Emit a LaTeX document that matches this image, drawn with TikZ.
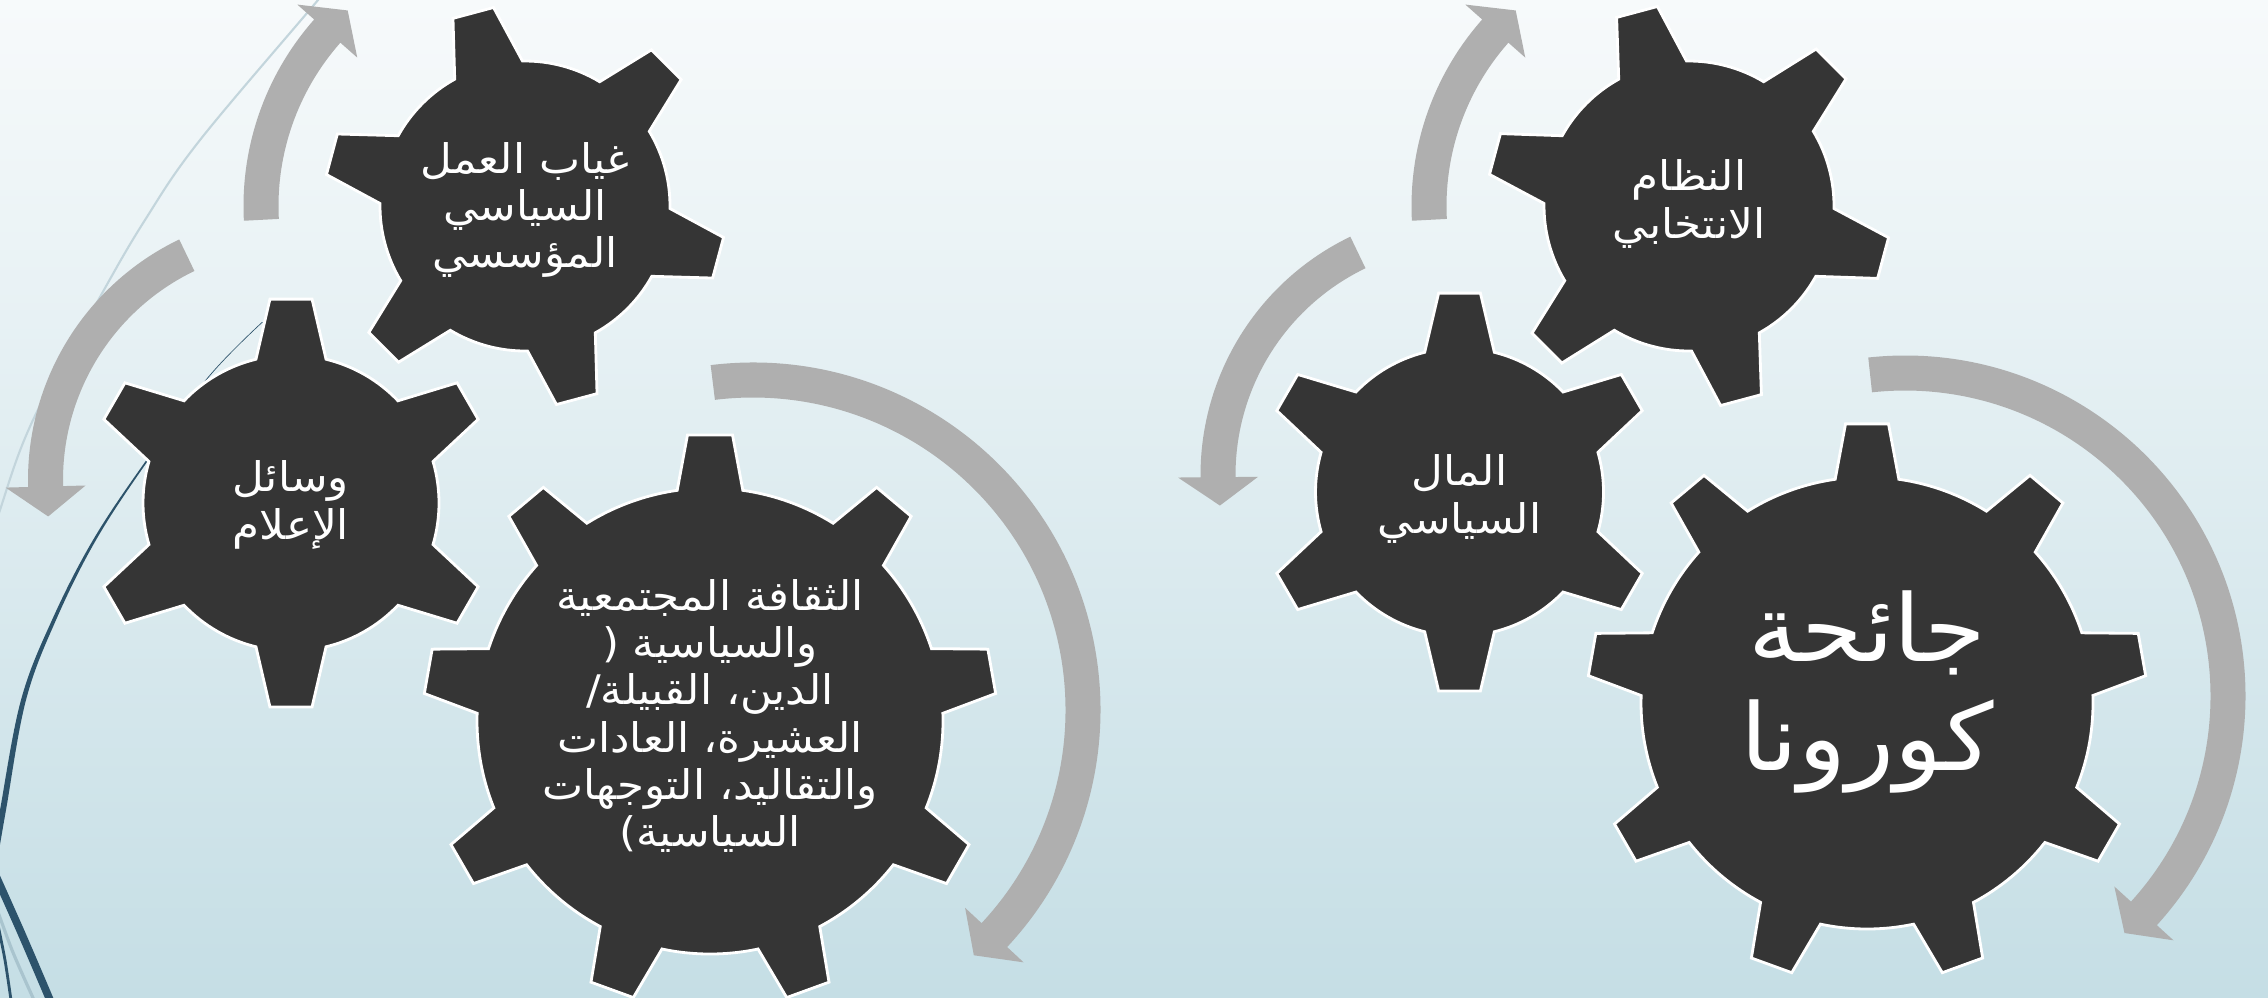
\documentclass[tikz,border=0pt]{standalone}
\usepackage{fontspec}
\newfontfamily\arabicfont[Script=Arabic, FakeStretch=1.07]{DejaVu Sans}
\TeXXeTstate=1
\definecolor{bgtop}{HTML}{F7FAFB}
\definecolor{bgbottom}{HTML}{C5DEE5}
\definecolor{geardark}{HTML}{353535}
\definecolor{arrowgray}{HTML}{AFAFAF}
\definecolor{wispteal}{HTML}{2D536B}
\definecolor{wisplight}{HTML}{C3D5DC}
\definecolor{wispblue}{HTML}{A9C4CE}

% cogwheel: centre x, centre y, teeth, first tooth angle, tip radius, body radius,
% half angle of tooth base, half angle of tooth tip
\newcommand{\cogwheel}[8]{%
  \pgfmathsetmacro{\cogstep}{360/#3}%
  \draw[gearbody, shift={(#1,#2)}] ({#4-#7}:#6)
    \foreach \k in {1,...,#3}{
      -- ({#4+(\k-1)*\cogstep-#8}:#5)
      -- ({#4+(\k-1)*\cogstep+#8}:#5)
      -- ({#4+(\k-1)*\cogstep+#7}:#6)
      arc[start angle={#4+(\k-1)*\cogstep+#7}, end angle={#4+\k*\cogstep-#7}, radius=#6]
    } -- cycle;
}
% curved arrow: centre x, centre y, radius, start angle, head base angle, tip angle
\newcommand{\spinarrow}[6]{%
  \fill[arrowfill, shift={(#1,#2)}] (#4:{#3+17.5})
    arc[start angle=#4, end angle=#5, radius={#3+17.5}]
    -- (#5:{#3+40}) -- (#6:#3) -- (#5:{#3-40}) -- (#5:{#3-17.5})
    arc[start angle=#5, end angle=#4, radius={#3-17.5}] -- cycle;
}

\begin{document}
\begin{tikzpicture}[x=0.1mm,y=0.1mm,
  gearbody/.style={fill=geardark, draw=white, line width=0.8pt, line join=miter},
  arrowfill/.style={fill=arrowgray},
  geartext/.style={text=white, align=center, inner sep=0pt,
    font=\arabicfont\fontsize{11.6}{13.4}\selectfont},
  bigtext/.style={text=white, align=center, inner sep=0pt,
    font=\arabicfont\fontsize{26.5}{30.8}\selectfont}]

\clip (0,-997) rectangle (2268,0);
\shade[top color=bgtop, bottom color=bgbottom] (0,-997) rectangle (2268,0);

% decorative strokes along the left edge
\draw[wisplight, line width=0.6pt] plot[smooth, tension=0.6] coordinates
  {(350,40) (318,0) (200,-140) (145,-220) (100,-297) (33,-420) (0,-510) (-20,-580)};
\fill[wispteal] plot[smooth, tension=0.6] coordinates
  {(262,-322) (208,-377) (145,-462) (93,-540) (52,-620) (21,-700) (0,-810) (-12,-880)}
  -- plot[smooth, tension=0.6] coordinates
  {(-6,-880) (6,-810) (26,-700) (56,-620) (96,-540) (147,-462) (209,-377) (263,-322)}
  -- cycle;
\draw[wispblue, line width=0.9pt] plot[smooth] coordinates {(-8,-895) (12,-950) (34,-1000)};
\draw[wispteal, line width=2.2pt] plot[smooth] coordinates {(-18,-845) (20,-930) (50,-1000)};
\draw[wispteal, line width=0.8pt] plot[smooth] coordinates {(-2,-925) (5,-960) (11,-1000)};

% curved arrows
\spinarrow{525}{-206}{264}{183}{138.5}{132.2}
\spinarrow{295}{-480}{249.5}{115.7}{181.5}{188.4}
\spinarrow{753}{-710}{330}{97}{-43}{-48}
\spinarrow{1693}{-206}{264}{183}{138.5}{132.2}
\spinarrow{1465}{-475}{247}{115.7}{180.5}{187.1}
\spinarrow{1905}{-696}{323}{96.2}{-42.3}{-47.2}

% cogwheels
\cogwheel{525}{-206}{6}{-15}{201}{145}{14}{6}
\cogwheel{291}{-503}{6}{90}{205}{148}{13.7}{5.9}
\cogwheel{710}{-721}{9}{90}{287}{233}{8.1}{4.5}
\cogwheel{1689}{-206}{6}{-15}{202}{145}{14}{6}
\cogwheel{1459.5}{-492}{6}{90}{200}{144}{14}{6}
\cogwheel{1867}{-703}{9}{90}{280}{226}{8.1}{4.4}

% labels
\node[geartext] (absence) at (525,-210)
  {\beginR غياب العمل\endR\\\beginR السياسي\endR\\\beginR المؤسسي\endR};
\node[geartext] (media) at (291,-505)
  {\beginR وسائل\endR\\\beginR الإعلام\endR};
\node[geartext] (culture) at (710,-716)
  {\beginR الثقافة المجتمعية\endR\\\beginR والسياسية (\endR\\\beginR الدين، القبيلة/\endR\\
   \beginR العشيرة، العادات\endR\\\beginR والتقاليد، التوجهات\endR\\\beginR السياسية)\endR};
\node[geartext] (electoral) at (1689,-204)
  {\beginR النظام\endR\\\beginR الانتخابي\endR};
\node[geartext] (money) at (1459.5,-499)
  {\beginR المال\endR\\\beginR السياسي\endR};
\node[bigtext] (corona) at (1867,-692)
  {\beginR جائحة\endR\\\beginR كورونا\endR};
\end{tikzpicture}
\end{document}
